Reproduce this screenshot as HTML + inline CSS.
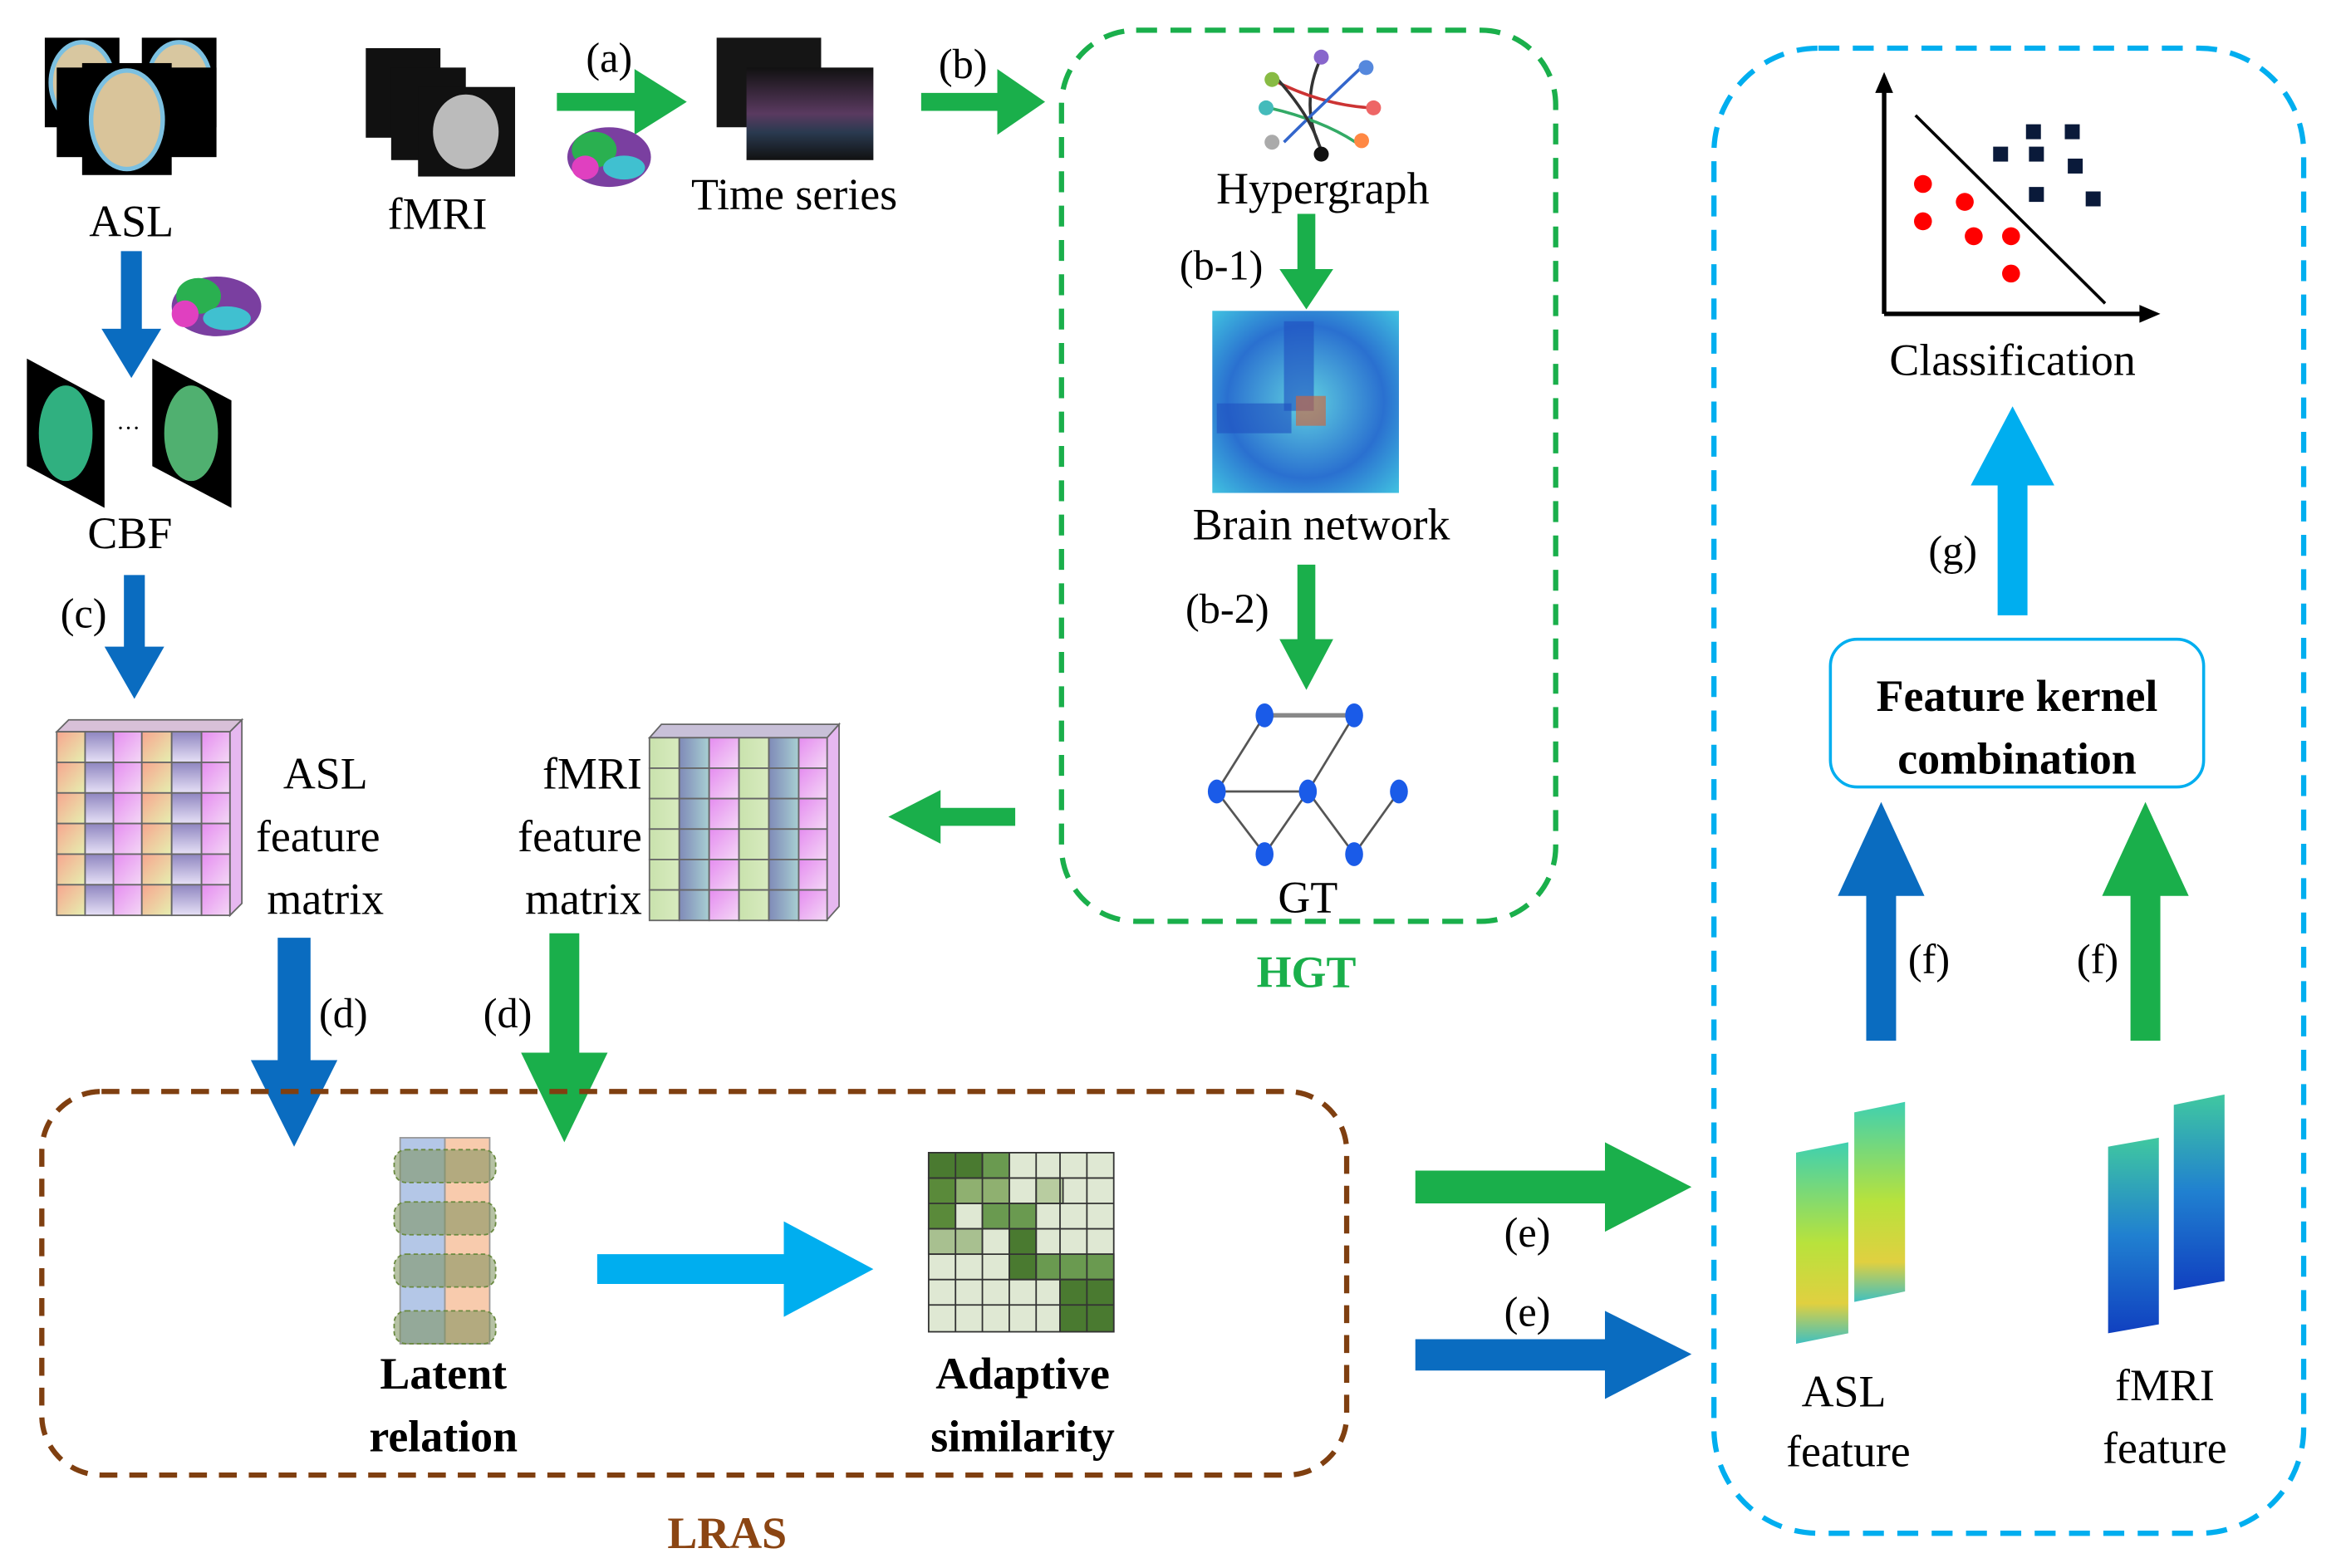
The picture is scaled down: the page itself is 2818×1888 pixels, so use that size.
<!DOCTYPE html>
<html><head><meta charset="utf-8"><style>html,body{margin:0;padding:0;background:#fff}svg{display:block}
svg text{font-family:"Liberation Serif","Times New Roman",Times,serif;fill:#000}</style></head><body>
<svg width="2818" height="1888" viewBox="0 0 1568 1050" xmlns="http://www.w3.org/2000/svg" font-family="Liberation Serif, Times New Roman, serif">
<defs>
<linearGradient id="gA" x1="0" y1="0" x2="1" y2="1"><stop offset="0" stop-color="#f7a58f"/><stop offset="1" stop-color="#e6f0b0"/></linearGradient>
<linearGradient id="gB" x1="0" y1="0" x2="0" y2="1"><stop offset="0" stop-color="#8f86c0"/><stop offset="1" stop-color="#e6e0f6"/></linearGradient>
<linearGradient id="gC" x1="0" y1="0" x2="1" y2="1"><stop offset="0" stop-color="#e58cf0"/><stop offset="1" stop-color="#f4d8f6"/></linearGradient>
<linearGradient id="gD" x1="0" y1="0" x2="1" y2="0"><stop offset="0" stop-color="#c9e2ad"/><stop offset="1" stop-color="#d8ebbf"/></linearGradient>
<linearGradient id="gE" x1="0" y1="0" x2="1" y2="0"><stop offset="0" stop-color="#7f8ab8"/><stop offset="1" stop-color="#a8cfd2"/></linearGradient>
<linearGradient id="ts" x1="0" y1="0" x2="0" y2="1"><stop offset="0" stop-color="#111"/><stop offset=".5" stop-color="#5a3a60"/><stop offset=".7" stop-color="#2a3a50"/><stop offset="1" stop-color="#111"/></linearGradient>
<linearGradient id="aslf" x1="0" y1="0" x2="0" y2="1"><stop offset="0" stop-color="#3fd0b0"/><stop offset=".5" stop-color="#b8e23c"/><stop offset=".8" stop-color="#e0d040"/><stop offset="1" stop-color="#40c0c0"/></linearGradient>
<linearGradient id="fmf" x1="0" y1="0" x2="0" y2="1"><stop offset="0" stop-color="#40c8a0"/><stop offset=".5" stop-color="#2080d0"/><stop offset="1" stop-color="#1040c0"/></linearGradient>
<radialGradient id="bn" cx=".5" cy=".5" r=".7"><stop offset="0" stop-color="#60d0e0"/><stop offset=".6" stop-color="#2a70d0"/><stop offset="1" stop-color="#40c0e0"/></radialGradient>
</defs>

<rect x="30" y="25" width="50" height="60" fill="#000"/><ellipse cx="55" cy="55" rx="21" ry="27" fill="#d8c7a0" stroke="#7cc0e0" stroke-width="3"/>
<rect x="95" y="25" width="50" height="60" fill="#000"/><ellipse cx="120" cy="55" rx="21" ry="27" fill="#d8c7a0" stroke="#7cc0e0" stroke-width="3"/>
<rect x="38" y="45" width="50" height="60" fill="#000"/><rect x="98" y="45" width="47" height="60" fill="#000"/>
<rect x="55" y="42" width="60" height="75" fill="#000"/><ellipse cx="85" cy="80" rx="24" ry="33" fill="#d9c49a" stroke="#7cc0e0" stroke-width="3"/>
<text x="88" y="158" font-size="30" text-anchor="middle">ASL</text>

<rect x="245" y="32" width="50" height="60" fill="#111"/><rect x="262" y="45" width="50" height="62" fill="#111"/>
<rect x="280" y="58" width="65" height="60" fill="#111"/><ellipse cx="312" cy="88" rx="22" ry="25" fill="#bbb"/>
<text x="293" y="153" font-size="30" text-anchor="middle">fMRI</text>

<polygon points="373,62 425,62 425,46 460,68 425,90 425,74 373,74" fill="#1aaf4b"/>
<text x="408" y="48" font-size="28" text-anchor="middle">(a)</text>
<ellipse cx="408" cy="105" rx="28" ry="20" fill="#7a3fa0"/><ellipse cx="398" cy="100" rx="15" ry="12" fill="#2ab050"/><ellipse cx="418" cy="112" rx="14" ry="8" fill="#40c0d0"/><ellipse cx="392" cy="112" rx="9" ry="8" fill="#e040c0"/>
<rect x="480" y="25" width="70" height="60" fill="#151515"/><rect x="500" y="45" width="85" height="62" fill="url(#ts)"/>
<text x="532" y="140" font-size="30" text-anchor="middle">Time series</text>
<polygon points="617,62 668,62 668,46 700,68 668,90 668,74 617,74" fill="#1aaf4b"/>
<text x="645" y="52" font-size="28" text-anchor="middle">(b)</text>

<rect x="711" y="20" width="331" height="597" rx="50" fill="none" stroke="#1aaf4b" stroke-width="3.5" stroke-dasharray="14,9"/>
<text x="875" y="661" font-size="30" font-weight="bold" text-anchor="middle" style="fill:#1aaf4b">HGT</text>
<g stroke-width="2" fill="none">
<path d="M885,38 Q870,70 885,100" stroke="#333"/><path d="M852,53 Q885,70 918,72" stroke="#c33"/><path d="M915,42 Q880,75 860,95" stroke="#36c"/><path d="M850,72 Q885,80 908,95" stroke="#3a6"/><path d="M855,52 Q880,80 885,102" stroke="#333"/></g>
<circle cx="885" cy="38" r="5" fill="#86c"/><circle cx="852" cy="53" r="5" fill="#8b4"/><circle cx="915" cy="45" r="5" fill="#58d"/><circle cx="848" cy="72" r="5" fill="#4bb"/><circle cx="920" cy="72" r="5" fill="#e66"/><circle cx="852" cy="95" r="5" fill="#aaa"/><circle cx="912" cy="94" r="5" fill="#f84"/><circle cx="885" cy="103" r="5" fill="#111"/>
<text x="886" y="136" font-size="30" text-anchor="middle">Hypergraph</text>
<polygon points="869,143 881,143 881,180 893,180 875,207 857,180 869,180" fill="#1aaf4b"/>
<text x="818" y="187" font-size="28" text-anchor="middle">(b-1)</text>
<rect x="812" y="208" width="125" height="122" fill="url(#bn)"/>
<rect x="860" y="215" width="20" height="60" fill="#2050c0" opacity=".6"/><rect x="815" y="270" width="50" height="20" fill="#2050c0" opacity=".6"/><rect x="868" y="265" width="20" height="20" fill="#d86030" opacity=".6"/>
<text x="885" y="361" font-size="30" text-anchor="middle">Brain network</text>
<polygon points="869,378 881,378 881,428 893,428 875,462 857,428 869,428" fill="#1aaf4b"/>
<text x="822" y="417" font-size="28" text-anchor="middle">(b-2)</text>
<g stroke="#555" stroke-width="1.5"><line x1="847" y1="479" x2="907" y2="479" stroke-width="3" stroke="#888"/><line x1="847" y1="479" x2="815" y2="530"/><line x1="907" y1="479" x2="876" y2="530"/><line x1="815" y1="530" x2="876" y2="530"/><line x1="815" y1="530" x2="847" y2="572"/><line x1="876" y1="530" x2="847" y2="572"/><line x1="876" y1="530" x2="907" y2="572"/><line x1="937" y1="530" x2="907" y2="572"/></g>
<g fill="#1a5be8"><ellipse cx="847" cy="479" rx="6" ry="8"/><ellipse cx="907" cy="479" rx="6" ry="8"/><ellipse cx="815" cy="530" rx="6" ry="8"/><ellipse cx="876" cy="530" rx="6" ry="8"/><ellipse cx="937" cy="530" rx="6" ry="8"/><ellipse cx="847" cy="572" rx="6" ry="8"/><ellipse cx="907" cy="572" rx="6" ry="8"/></g>
<text x="876" y="611" font-size="30" text-anchor="middle">GT</text>
<polygon points="680,541 630,541 630,529 595,547 630,565 630,553 680,553" fill="#1aaf4b"/>

<polygon points="81,168 95,168 95,220 108,220 88,253 68,220 81,220" fill="#0a6cc0"/>
<ellipse cx="145" cy="205" rx="30" ry="20" fill="#7a3fa0"/><ellipse cx="133" cy="198" rx="15" ry="12" fill="#2ab050"/><ellipse cx="152" cy="213" rx="16" ry="8" fill="#40c0d0"/><ellipse cx="124" cy="210" rx="9" ry="9" fill="#e040c0"/>
<polygon points="18,240 70,268 70,340 18,312" fill="#000"/><ellipse cx="44" cy="290" rx="18" ry="32" fill="#30b080"/>
<polygon points="102,240 155,268 155,340 102,312" fill="#000"/><ellipse cx="128" cy="290" rx="18" ry="32" fill="#50b070"/>
<text x="86" y="292" font-size="16" text-anchor="middle">···</text>
<text x="87" y="367" font-size="30" text-anchor="middle">CBF</text>
<polygon points="83,385 97,385 97,433 110,433 90,468 70,433 83,433" fill="#0a6cc0"/>
<text x="56" y="420" font-size="28" text-anchor="middle">(c)</text>

<g stroke="#666" stroke-width="1">
<polygon points="38,490 46,482 162,482 154,490" fill="#d8c0d8"/><polygon points="154,490 162,482 162,605 154,613" fill="#e6b8f0"/>
<g id="ar"><rect x="38" y="490" width="19" height="20.5" fill="url(#gA)"/><rect x="57" y="490" width="19" height="20.5" fill="url(#gB)"/><rect x="76" y="490" width="19" height="20.5" fill="url(#gC)"/><rect x="95" y="490" width="20" height="20.5" fill="url(#gA)"/><rect x="115" y="490" width="20" height="20.5" fill="url(#gB)"/><rect x="135" y="490" width="19" height="20.5" fill="url(#gC)"/></g>
<use href="#ar" transform="translate(0,20.5)"/><use href="#ar" transform="translate(0,41)"/><use href="#ar" transform="translate(0,61.5)"/><use href="#ar" transform="translate(0,82)"/><use href="#ar" transform="translate(0,102.5)"/>
</g>
<text x="218" y="528" font-size="30" text-anchor="middle">ASL</text>
<text x="213" y="570" font-size="30" text-anchor="middle">feature</text>
<text x="218" y="612" font-size="30" text-anchor="middle">matrix</text>

<g stroke="#666" stroke-width="1">
<polygon points="435,494 443,485 562,485 554,494" fill="#c8c0d8"/><polygon points="554,494 562,485 562,607 554,616" fill="#e6b8f0"/>
<g id="fr">
<rect x="435" y="494" width="20" height="20.4" fill="url(#gD)"/><rect x="455" y="494" width="20" height="20.4" fill="url(#gE)"/><rect x="475" y="494" width="20" height="20.4" fill="url(#gC)"/><rect x="495" y="494" width="20" height="20.4" fill="url(#gD)"/><rect x="515" y="494" width="20" height="20.4" fill="url(#gE)"/><rect x="535" y="494" width="19" height="20.4" fill="url(#gC)"/></g>
<use href="#fr" transform="translate(0,20.4)"/><use href="#fr" transform="translate(0,40.8)"/><use href="#fr" transform="translate(0,61.2)"/><use href="#fr" transform="translate(0,81.6)"/><use href="#fr" transform="translate(0,102)"/>
</g>
<text x="430" y="528" font-size="30" text-anchor="end">fMRI</text>
<text x="430" y="570" font-size="30" text-anchor="end">feature</text>
<text x="430" y="612" font-size="30" text-anchor="end">matrix</text>

<polygon points="186,628 208,628 208,710 226,710 197,768 168,710 186,710" fill="#0a6cc0"/>
<text x="230" y="688" font-size="28" text-anchor="middle">(d)</text>
<polygon points="368,625 388,625 388,705 407,705 378,765 349,705 368,705" fill="#1aaf4b"/>
<text x="340" y="688" font-size="28" text-anchor="middle">(d)</text>

<rect x="28" y="731" width="874" height="257" rx="40" fill="none" stroke="#7f3f10" stroke-width="3.5" stroke-dasharray="12,8"/>
<text x="487" y="1037" font-size="30" font-weight="bold" text-anchor="middle" style="fill:#8b4513">LRAS</text>
<rect x="268" y="762" width="30" height="138" fill="#b4c7e7" stroke="#999"/><rect x="298" y="762" width="30" height="138" fill="#f8cbad" stroke="#999"/>
<g fill="#7a8f5a" fill-opacity=".55" stroke="#6a8a40" stroke-dasharray="3,2"><rect x="264" y="770" width="68" height="22" rx="8"/><rect x="264" y="805" width="68" height="22" rx="8"/><rect x="264" y="840" width="68" height="22" rx="8"/><rect x="264" y="878" width="68" height="22" rx="8"/></g>
<text x="297" y="930" font-size="30" font-weight="bold" text-anchor="middle">Latent</text>
<text x="297" y="972" font-size="30" font-weight="bold" text-anchor="middle">relation</text>
<polygon points="400,840 525,840 525,818 585,850 525,882 525,860 400,860" fill="#00aeef"/>
<g stroke="#333" stroke-width="1">
<rect x="622" y="772" width="124" height="120" fill="#dfe8d3"/>
<rect x="622" y="772" width="36" height="17" fill="#4a7a30"/><rect x="658" y="772" width="18" height="17" fill="#6a9a50"/><rect x="622" y="789" width="18" height="34" fill="#5a8a3a"/><rect x="640" y="789" width="36" height="17" fill="#8fb070"/><rect x="658" y="806" width="36" height="17" fill="#6a9a50"/><rect x="676" y="823" width="18" height="34" fill="#4a7a30"/><rect x="694" y="840" width="52" height="17" fill="#6a9a50"/><rect x="710" y="857" width="36" height="35" fill="#4a7a30"/><rect x="622" y="823" width="36" height="17" fill="#a8c090"/><rect x="694" y="789" width="18" height="17" fill="#b8cca0"/>
<path d="M640,772V892M658,772V892M676,772V892M694,772V892M710,772V892M728,772V892M622,789H746M622,806H746M622,823H746M622,840H746M622,857H746M622,874H746" fill="none"/>
</g>
<text x="685" y="930" font-size="30" font-weight="bold" text-anchor="middle">Adaptive</text>
<text x="685" y="972" font-size="30" font-weight="bold" text-anchor="middle">similarity</text>

<polygon points="948,784 1075,784 1075,765 1133,795 1075,825 1075,806 948,806" fill="#1aaf4b"/>
<text x="1023" y="835" font-size="28" text-anchor="middle">(e)</text>
<polygon points="948,897 1075,897 1075,878 1133,907 1075,937 1075,918 948,918" fill="#0a6cc0"/>
<text x="1023" y="888" font-size="28" text-anchor="middle">(e)</text>

<rect x="1148" y="32" width="395" height="995" rx="70" fill="none" stroke="#00aeef" stroke-width="3.5" stroke-dasharray="14,9"/>
<g stroke="#000" stroke-width="3" fill="none"><path d="M1262,210V55"/><path d="M1262,210H1438"/><path d="M1283,77L1410,203" stroke-width="2"/></g>
<polygon points="1262,48 1256,62 1268,62" fill="#000"/><polygon points="1447,210 1433,204 1433,216" fill="#000"/>
<g fill="#f00"><circle cx="1288" cy="123" r="6"/><circle cx="1288" cy="148" r="6"/><circle cx="1316" cy="135" r="6"/><circle cx="1322" cy="158" r="6"/><circle cx="1347" cy="158" r="6"/><circle cx="1347" cy="183" r="6"/></g>
<g fill="#0a1a3a"><rect x="1357" y="83" width="10" height="10"/><rect x="1383" y="83" width="10" height="10"/><rect x="1335" y="98" width="10" height="10"/><rect x="1359" y="98" width="10" height="10"/><rect x="1385" y="106" width="10" height="10"/><rect x="1359" y="125" width="10" height="10"/><rect x="1397" y="128" width="10" height="10"/></g>
<text x="1348" y="251" font-size="30" text-anchor="middle">Classification</text>
<polygon points="1338,412 1358,412 1358,325 1376,325 1348,272 1320,325 1338,325" fill="#00aeef"/>
<text x="1308" y="378" font-size="28" text-anchor="middle">(g)</text>
<rect x="1226" y="428" width="250" height="99" rx="18" fill="#fff" stroke="#00aeef" stroke-width="2"/>
<text x="1351" y="476" font-size="30" font-weight="bold" text-anchor="middle">Feature kernel</text>
<text x="1351" y="518" font-size="30" font-weight="bold" text-anchor="middle">combination</text>
<polygon points="1250,697 1270,697 1270,600 1289,600 1260,537 1231,600 1250,600" fill="#0a6cc0"/>
<text x="1292" y="652" font-size="28" text-anchor="middle">(f)</text>
<polygon points="1427,697 1447,697 1447,600 1466,600 1437,537 1408,600 1427,600" fill="#1aaf4b"/>
<text x="1405" y="652" font-size="28" text-anchor="middle">(f)</text>
<polygon points="1203,772 1238,765 1238,893 1203,900" fill="url(#aslf)"/>
<polygon points="1242,745 1276,738 1276,865 1242,872" fill="url(#aslf)"/>
<polygon points="1412,768 1446,762 1446,887 1412,893" fill="url(#fmf)"/>
<polygon points="1456,740 1490,733 1490,858 1456,864" fill="url(#fmf)"/>
<text x="1235" y="942" font-size="30" text-anchor="middle">ASL</text>
<text x="1238" y="982" font-size="30" text-anchor="middle">feature</text>
<text x="1450" y="938" font-size="30" text-anchor="middle">fMRI</text>
<text x="1450" y="980" font-size="30" text-anchor="middle">feature</text>
</svg>
</body></html>
